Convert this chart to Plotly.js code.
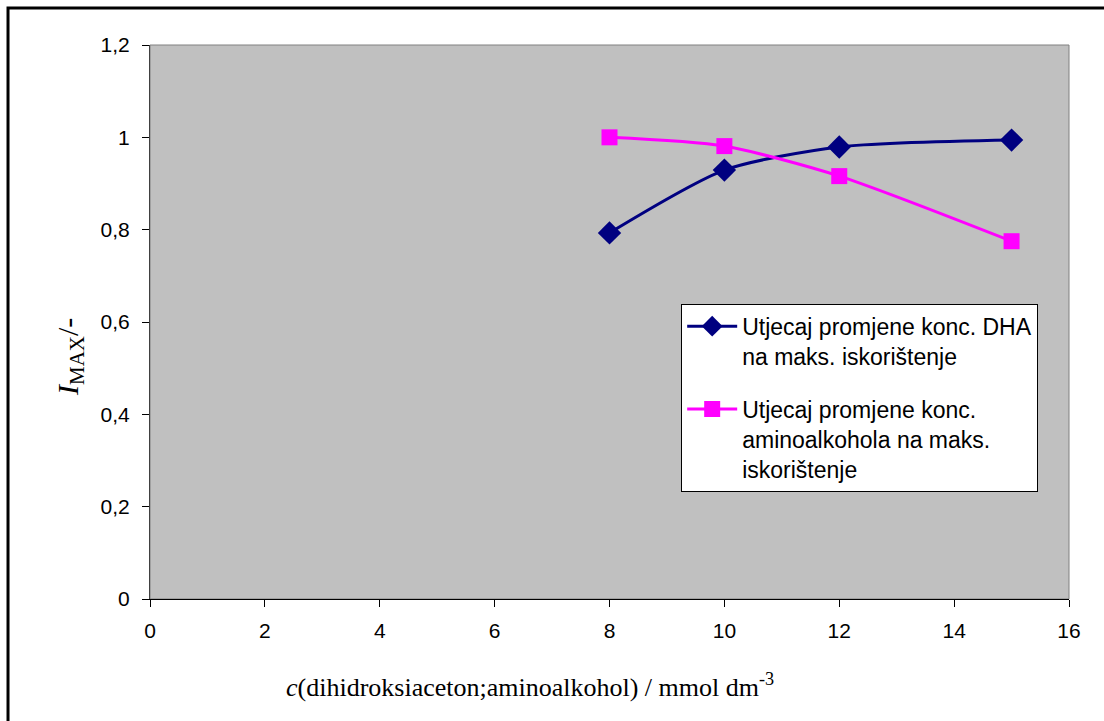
<!DOCTYPE html>
<html>
<head>
<meta charset="utf-8">
<script src="https://cdn.plot.ly/plotly-3.0.1.min.js"></script>
<style>html,body{margin:0;padding:0;background:#fff;}#chart{width:1104px;height:721px;}</style>
</head>
<body>
<div id="chart"></div>
<script>
const concentrations = [8, 10, 12, 15];
const dhaValues = [0.793, 0.929, 0.979, 0.994];
const aminoValues = [1.0, 0.981, 0.916, 0.775];
const seriesNames = [
  'Utjecaj promjene konc. DHA<br>na maks. iskorištenje',
  'Utjecaj promjene konc.<br>aminoalkohola na maks.<br>iskorištenje'
];
const xTitle = '<i>c</i>(dihidroksiaceton;aminoalkohol) / mmol dm<sup>-3</sup>';
const yTitle = '<i>I</i><sub>MAX</sub>/-';

const traces = [
  {
    x: concentrations, y: dhaValues, name: seriesNames[0],
    type: 'scatter', mode: 'lines+markers',
    line: {color: '#000080', width: 3, shape: 'spline', smoothing: 0.7},
    marker: {symbol: 'diamond', size: 18, color: '#000080'},
    legendgroup: 'a'
  },
  {
    x: concentrations, y: aminoValues, name: seriesNames[1],
    type: 'scatter', mode: 'lines+markers',
    line: {color: '#FF00FF', width: 3, shape: 'spline', smoothing: 0.7},
    marker: {symbol: 'square', size: 16, color: '#FF00FF'},
    legendgroup: 'b'
  }
];

const layout = {
  width: 1104, height: 721,
  margin: {l: 150, r: 35, t: 45, b: 122},
  paper_bgcolor: '#ffffff',
  plot_bgcolor: '#C0C0C0',
  separators: ', ',
  font: {family: 'Liberation Sans, Arial, sans-serif', color: '#000'},
  showlegend: true,
  legend: {
    x: 0.578, y: 0.533, xanchor: 'left', yanchor: 'top',
    bgcolor: '#ffffff', bordercolor: '#000', borderwidth: 1,
    font: {family: 'Liberation Sans, Arial, sans-serif', size: 23, color: '#000'},
    tracegroupgap: 20, valign: 'top', itemwidth: 50
  },
  xaxis: {
    range: [0, 16], dtick: 2, tick0: 0,
    showgrid: false, zeroline: false,
    showline: true, linecolor: '#000', linewidth: 1,
    ticks: 'outside', ticklen: 7, tickcolor: '#000', tickwidth: 1,
    tickfont: {size: 21, family: 'Liberation Sans, Arial, sans-serif'},
    ticklabelstandoff: 6
  },
  yaxis: {
    range: [0, 1.2], dtick: 0.2, tick0: 0,
    showgrid: false, zeroline: false,
    showline: true, linecolor: '#404040', linewidth: 1,
    ticks: 'outside', ticklen: 7, tickcolor: '#000', tickwidth: 1,
    tickfont: {size: 21, family: 'Liberation Sans, Arial, sans-serif'},
    ticklabelstandoff: 8
  },
  annotations: [
    {text: xTitle, xref: 'paper', yref: 'paper', x: 0.4135, y: (599 - 685) / 554,
     xanchor: 'center', yanchor: 'middle', showarrow: false,
     font: {family: 'Liberation Serif, Times New Roman, serif', size: 26, color: '#000'}},
    {text: yTitle, xref: 'paper', yref: 'paper', x: (70 - 150) / 919, y: (599 - 357) / 554,
     xanchor: 'center', yanchor: 'middle', showarrow: false, textangle: -90,
     font: {family: 'Liberation Serif, Times New Roman, serif', size: 30, color: '#000'}}
  ],
  shapes: [
    {type: 'rect', xref: 'paper', yref: 'paper', x0: 0, x1: 1, y0: 0, y1: 1,
     line: {color: '#808080', width: 1}, layer: 'below'},
    {type: 'rect', xref: 'paper', yref: 'paper', x0: -0.1545, x1: 1.3, y0: -0.5, y1: 1.0668,
     line: {color: '#000', width: 3}, layer: 'below'}
  ]
};

Plotly.newPlot('chart', traces, layout, {displayModeBar: false, staticPlot: true});
</script>
</body>
</html>
